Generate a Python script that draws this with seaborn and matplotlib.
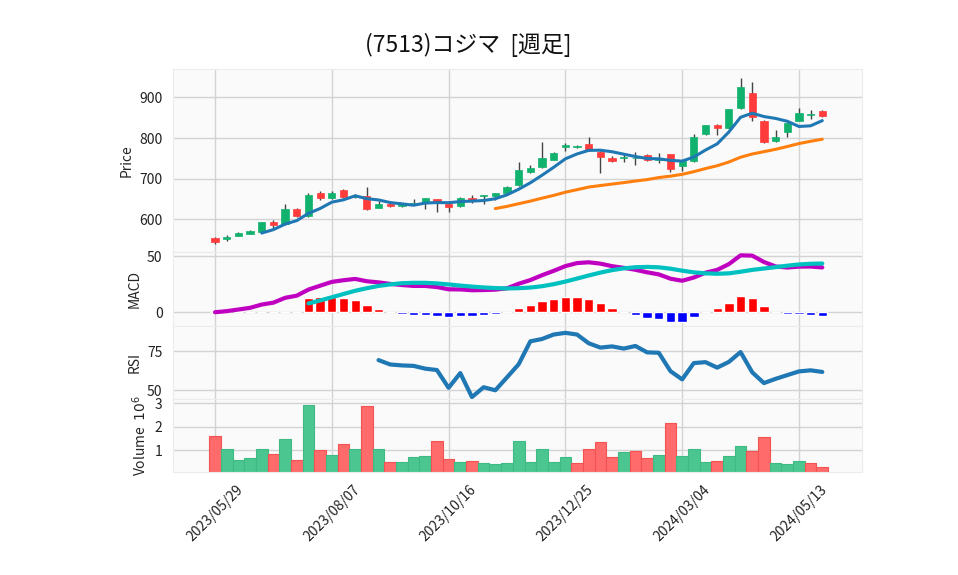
import numpy as np
import pandas as pd
import matplotlib
matplotlib.use("Agg")
import matplotlib.pyplot as plt
import seaborn as sns

sns.set_style("white")
plt.rcParams['font.family'] = ['Noto Sans CJK JP', 'DejaVu Sans']

title = "(7513)コジマ  [週足]"
start_date = "2023-05-29"

opens = [554, 552, 560, 565, 570, 593, 588, 626, 609, 664,
         653, 672, 656, 658, 629, 638, 633, 638, 642, 650,
         639, 633, 653, 657, 658, 664, 684, 717, 729, 747,
         777, 778, 785, 766, 752, 752, 750, 759, 747, 760,
         732, 744, 810, 832, 824, 873, 912, 842, 792, 815,
         843, 856, 866]
highs = [556, 561, 570, 574, 594, 598, 637, 627, 666, 669,
         669, 674, 662, 679, 645, 640, 639, 650, 653, 651,
         640, 656, 661, 660, 665, 681, 740, 733, 791, 765,
         789, 784, 802, 768, 755, 762, 765, 760, 764, 762,
         745, 811, 833, 834, 872, 949, 938, 844, 820, 836,
         873, 869, 868]
lows = [539, 548, 558, 563, 569, 580, 586, 607, 607, 648,
        650, 652, 653, 623, 627, 631, 631, 635, 625, 617,
        619, 630, 641, 638, 647, 662, 682, 715, 727, 745,
        769, 776, 768, 713, 742, 742, 734, 744, 738, 717,
        720, 742, 808, 807, 822, 871, 842, 787, 790, 803,
        841, 846, 853]
closes = [545, 557, 566, 571, 593, 587, 625, 609, 660, 653,
          665, 654, 658, 625, 637, 633, 638, 641, 652, 643,
          631, 652, 647, 659, 665, 679, 721, 726, 752, 763,
          783, 781, 770, 754, 744, 753, 752, 746, 750, 725,
          744, 802, 832, 826, 871, 925, 852, 791, 803, 836,
          861, 860, 855]
volumes_m = [1.61, 1.08, 0.59, 0.67, 1.05, 0.84, 1.48, 0.59, 2.93, 1.01,
             0.80, 1.27, 1.08, 2.88, 1.08, 0.50, 0.50, 0.71, 0.76, 1.39,
             0.63, 0.50, 0.57, 0.46, 0.42, 0.46, 1.40, 0.50, 1.05, 0.50,
             0.71, 0.46, 1.05, 1.35, 0.71, 0.93, 0.97, 0.67, 0.80, 2.16,
             0.76, 1.05, 0.50, 0.54, 0.76, 1.18, 0.97, 1.57, 0.46, 0.42,
             0.54, 0.46, 0.29]

dates = pd.date_range(start_date, periods=len(closes), freq="7D")
df = pd.DataFrame({"Open": opens, "High": highs, "Low": lows,
                   "Close": closes, "Volume": volumes_m})
df["x"] = np.arange(len(df))
c = df["Close"]
df["MA5"] = c.rolling(5).mean()
df["MA25"] = c.rolling(25).mean()
ema12 = c.ewm(span=12, adjust=False).mean()
ema26 = c.ewm(span=26, adjust=False).mean()
df["MACD"] = ema12 - ema26
df["Signal"] = df["MACD"].rolling(9).mean()
df["Hist"] = df["MACD"] - df["Signal"]
d = c.diff()
gain = d.clip(lower=0).rolling(14).mean()
loss = (-d.clip(upper=0)).rolling(14).mean()
df["RSI"] = 100 * gain / (gain + loss)

UP = "#10b26e"
DOWN = "#ff3b3b"
VUP = "#4cc690"
VDOWN = "#ff6b6b"
BG = "#fafafa"
GRID = "#d3d3d3"

fig = plt.figure(figsize=(9.58, 5.75), dpi=100)
L, W = 173 / 958, 689 / 958
def pos(top, bot):
    return [L, 1 - bot / 575, W, (bot - top) / 575]
ax_p = fig.add_axes(pos(69, 252.3))
ax_m = fig.add_axes(pos(252.3, 325.5), sharex=ax_p)
ax_r = fig.add_axes(pos(325.5, 398.7), sharex=ax_p)
ax_v = fig.add_axes(pos(398.7, 471.9), sharex=ax_p)

for ax in (ax_p, ax_m, ax_r, ax_v):
    ax.set_facecolor(BG)
    ax.grid(True, color=GRID, linewidth=1.0)
    ax.set_axisbelow(True)
    for s in ax.spines.values():
        s.set_color("#ececec")
    ax.tick_params(axis="both", labelsize=10, colors="#222222", length=4, width=0.8)

# candles
up = df["Close"] >= df["Open"]
ccol = np.where(up, UP, DOWN)
ax_p.vlines(df["x"], df["Low"], df["High"], color="#444444", linewidth=1.0, zorder=2)
ax_p.bar(df["x"], (df["Close"] - df["Open"]).abs().clip(lower=0.8),
         bottom=np.minimum(df["Open"], df["Close"]), width=0.62,
         color=ccol, edgecolor=ccol, linewidth=0.5, zorder=3)
sns.lineplot(data=df, x="x", y="MA5", ax=ax_p, color="#1f77b4", linewidth=2.2, zorder=4)
sns.lineplot(data=df, x="x", y="MA25", ax=ax_p, color="#ff7f0e", linewidth=2.2, zorder=4)
ax_p.set_ylim(519, 970)
ax_p.set_yticks([600, 700, 800, 900])
ax_p.set_ylabel("Price", fontsize=10)

# MACD
hcol = np.where(df["Hist"] >= 0, "#ff0000", "#0000ff")
ax_m.bar(df["x"], df["Hist"].fillna(0), width=0.8, color=hcol, zorder=2)
sns.lineplot(data=df, x="x", y="MACD", ax=ax_m, color="#c000c0", linewidth=3, zorder=3)
sns.lineplot(data=df, x="x", y="Signal", ax=ax_m, color="#00c0c0", linewidth=3, zorder=3)
ax_m.set_ylim(-11.8, 53.3)
ax_m.set_yticks([0, 50])
ax_m.set_ylabel("MACD", fontsize=10)

# RSI
sns.lineplot(data=df, x="x", y="RSI", ax=ax_r, color="#1f77b4", linewidth=3, zorder=3)
ax_r.set_ylim(44.6, 91.5)
ax_r.set_yticks([50, 75])
ax_r.set_ylabel("RSI", fontsize=10)

# Volume
vup = df["Close"].diff().fillna(df["Close"] - df["Open"]) >= 0
vcol = np.where(vup, VUP, VDOWN)
vedge = np.where(vup, "#3dbb82", "#f25252")
ax_v.bar(df["x"], df["Volume"], width=1.0, color=vcol, edgecolor=vedge, linewidth=0.8, zorder=2)
ax_v.set_ylim(0.09, 3.2)
ax_v.set_yticks([1, 2, 3])
ax_v.set_ylabel("Volume  $10^6$", fontsize=10)

ax_p.set_xlim(-3.6, 55.4)
ticks = list(range(0, len(df), 10))
ax_v.set_xticks(ticks)
ax_v.set_xticklabels([dates[i].strftime("%Y/%m/%d") for i in ticks], rotation=45, ha="center")
for ax in (ax_p, ax_m, ax_r):
    ax.tick_params(axis="x", labelbottom=False, length=0)
    ax.set_xlabel("")
ax_v.set_xlabel("")

fig.text(468 / 958, 1 - 45 / 575, title, ha="center", va="center", fontsize=16.5, color="#111111")

fig.savefig("out.png", dpi=100)
